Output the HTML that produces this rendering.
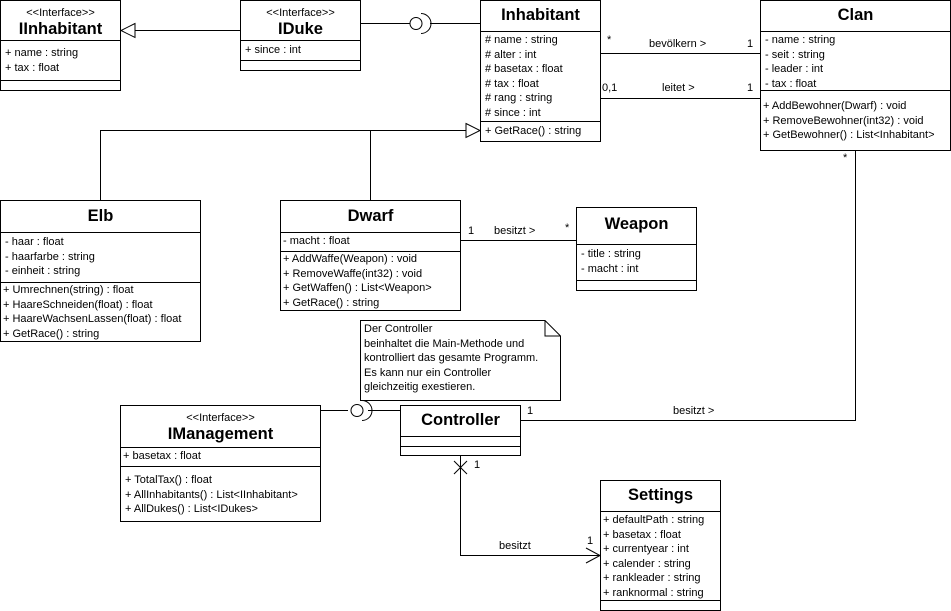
<!DOCTYPE html>
<html><head><meta charset="utf-8"><style>
body{margin:0;width:951px;height:611px;background:#fff;position:relative;overflow:hidden;font-family:"Liberation Sans",Arial,sans-serif;color:#000}
.b{position:absolute;border:1px solid #000;background:#fff;box-sizing:border-box}
.h{border-bottom:1px solid #000;text-align:center;box-sizing:border-box}
.st{font-size:11px;padding-top:6px;line-height:12px}
.t{font-size:16.5px;font-weight:bold;line-height:21px}
.s{border-bottom:1px solid #000;font-size:11px;line-height:14.5px;padding-left:4px;box-sizing:border-box;white-space:nowrap}
.s:last-child{border-bottom:none}
.l{position:absolute;font-size:11px;white-space:nowrap}
svg{position:absolute;left:0;top:0}
</style></head><body>
<svg width="951" height="611" fill="none" stroke="#000" stroke-width="1">
<path d="M240 30.5H135"/><path d="M135 23.5L121 30.5L135 37.5Z" fill="#fff"/>
<path d="M360 23.5H410M430 23.5H480"/><circle cx="416" cy="23.5" r="6" fill="#fff"/><path d="M421 13.5A10 10 0 0 1 421 33.5"/>
<path d="M100.5 200V130.5H466M370.5 130.5V200"/><path d="M466 123.5L480 130.5L466 137.5Z" fill="#fff"/>
<path d="M600 53.5H760M600 98.5H760"/>
<path d="M855.5 150V420.5H520"/>
<path d="M460 240.5H576"/>
<path d="M320 410.5H348M368 410.5H400"/><circle cx="357" cy="410.5" r="6" fill="#fff"/><path d="M362 400.5A10 10 0 0 1 362 420.5"/>
<path d="M460.5 455V555.5H600"/><path d="M454 461L467 474M467 461L454 474"/><path d="M586 548L600 555.5L586 563"/>
<path d="M360.5 320.5H545L560.5 336V400.5H360.5Z" fill="#fff"/><path d="M545 320.5V336H560.5"/>
</svg>

<div class="b" style="left:0;top:0;width:121px;height:91px">
<div class="h" style="height:40px"><div class="st">&lt;&lt;Interface&gt;&gt;</div><div class="t">IInhabitant</div></div>
<div class="s" style="height:40px;padding-top:5px">+ name : string<br>+ tax : float</div><div class="s" style="height:9px"></div></div>

<div class="b" style="left:240px;top:0;width:121px;height:71px">
<div class="h" style="height:40px"><div class="st">&lt;&lt;Interface&gt;&gt;</div><div class="t">IDuke</div></div>
<div class="s" style="height:20px;padding-top:2px">+ since : int</div><div class="s" style="height:9px"></div></div>

<div class="b" style="left:480px;top:0;width:121px;height:142px">
<div class="h t" style="height:31px;line-height:28px">Inhabitant</div>
<div class="s" style="height:90px;padding-top:1px"># name : string<br># alter : int<br># basetax : float<br># tax : float<br># rang : string<br># since : int</div>
<div class="s" style="padding-top:2px">+ GetRace() : string</div></div>

<div class="b" style="left:760px;top:0;width:191px;height:151px">
<div class="h t" style="height:31px;line-height:28px">Clan</div>
<div class="s" style="height:59px;padding-top:1px">- name : string<br>- seit : string<br>- leader : int<br>- tax : float</div>
<div class="s" style="padding-top:8px;padding-left:2px">+ AddBewohner(Dwarf) : void<br>+ RemoveBewohner(int32) : void<br>+ GetBewohner() : List&lt;Inhabitant&gt;</div></div>

<div class="b" style="left:0;top:200px;width:201px;height:142px">
<div class="h t" style="height:32px;line-height:30px">Elb</div>
<div class="s" style="height:50px;padding-top:2px">- haar : float<br>- haarfarbe : string<br>- einheit : string</div>
<div class="s" style="padding-top:0;padding-left:2px">+ Umrechnen(string) : float<br>+ HaareSchneiden(float) : float<br>+ HaareWachsenLassen(float) : float<br>+ GetRace() : string</div></div>

<div class="b" style="left:280px;top:200px;width:181px;height:111px">
<div class="h t" style="height:32px;line-height:30px">Dwarf</div>
<div class="s" style="height:19px;padding-top:1px;padding-left:2px">- macht : float</div>
<div class="s" style="padding-top:0;padding-left:2px">+ AddWaffe(Weapon) : void<br>+ RemoveWaffe(int32) : void<br>+ GetWaffen() : List&lt;Weapon&gt;<br>+ GetRace() : string</div></div>

<div class="b" style="left:576px;top:207px;width:121px;height:84px">
<div class="h t" style="height:37px;line-height:32px">Weapon</div>
<div class="s" style="height:36px;padding-top:2px">- title : string<br>- macht : int</div><div class="s" style="height:9px"></div></div>

<div class="l" style="left:364px;top:322px;line-height:14.5px">Der Controller<br>beinhaltet die Main-Methode und<br>kontrolliert das gesamte Programm.<br>Es kann nur ein Controller<br>gleichzeitig exestieren.</div>

<div class="b" style="left:120px;top:405px;width:201px;height:117px">
<div class="h" style="height:42px"><div class="st">&lt;&lt;Interface&gt;&gt;</div><div class="t">IManagement</div></div>
<div class="s" style="height:19px;padding-top:1px;padding-left:2px">+ basetax : float</div>
<div class="s" style="padding-top:6px">+ TotalTax() : float<br>+ AllInhabitants() : List&lt;IInhabitant&gt;<br>+ AllDukes() : List&lt;IDukes&gt;</div></div>

<div class="b" style="left:400px;top:405px;width:121px;height:51px">
<div class="h t" style="height:31px;line-height:28px">Controller</div>
<div class="s" style="height:10px"></div><div class="s" style="height:8px"></div></div>

<div class="b" style="left:600px;top:480px;width:121px;height:131px">
<div class="h t" style="height:31px;line-height:28px">Settings</div>
<div class="s" style="height:89px;padding-top:1px;padding-left:2px">+ defaultPath : string<br>+ basetax : float<br>+ currentyear : int<br>+ calender : string<br>+ rankleader : string<br>+ ranknormal : string</div>
<div class="s" style="height:9px"></div></div>

<div class="l" style="left:607px;top:34px">*</div>
<div class="l" style="left:649px;top:38px">bevölkern &gt;</div>
<div class="l" style="left:747px;top:38px">1</div>
<div class="l" style="left:602px;top:82px">0,1</div>
<div class="l" style="left:662px;top:82px">leitet &gt;</div>
<div class="l" style="left:747px;top:82px">1</div>
<div class="l" style="left:843px;top:152px">*</div>
<div class="l" style="left:468px;top:225px">1</div>
<div class="l" style="left:494px;top:225px">besitzt &gt;</div>
<div class="l" style="left:565px;top:222px">*</div>
<div class="l" style="left:527px;top:405px">1</div>
<div class="l" style="left:673px;top:405px">besitzt &gt;</div>
<div class="l" style="left:474px;top:459px">1</div>
<div class="l" style="left:499px;top:540px">besitzt</div>
<div class="l" style="left:587px;top:535px">1</div>
</body></html>
